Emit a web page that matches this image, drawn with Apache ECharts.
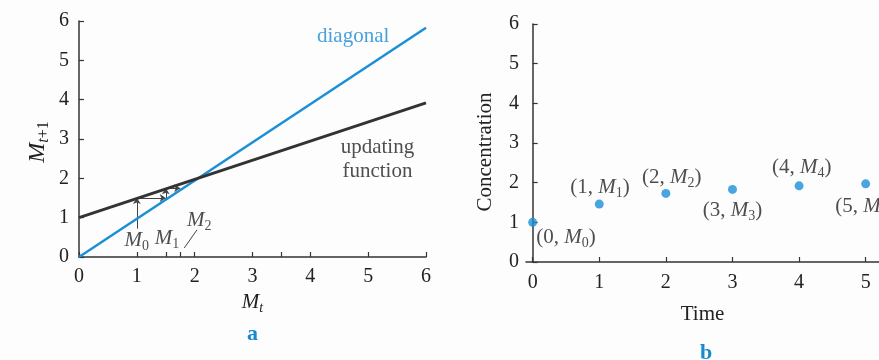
<!DOCTYPE html>
<html>
<head>
<meta charset="utf-8">
<script src="https://cdn.jsdelivr.net/npm/echarts@6/dist/echarts.min.js"></script>
<style>
  html, body { margin: 0; padding: 0; background: #fdfdfd; }
  #chart { width: 879px; height: 360px; }
</style>
</head>
<body>
<div id="chart"></div>
<script>
// panel a: cobweb diagram
var diagonalLine = [[0, 0], [6, 5.83]];
var updatingLine = [[0, 1], [6, 3.92]];
var cobwebSteps = [
    [[1, 0.72], [1, 1.5]],
    [[1, 1.5], [1.5, 1.5]],
    [[1.5, 1.5], [1.5, 1.75]],
    [[1.5, 1.75], [1.75, 1.75]]
];
var leaderLine = [[1.82, 0.23], [2.04, 0.69]];
var xTicksA = [0, 1, 1.5, 1.75, 2, 3, 3.5, 4, 5, 6];
var xLabelsA = [0, 1, 2, 3, 4, 5, 6];

// panel b: concentration over time
var timeSteps = [0, 1, 2, 3, 4, 5];
var concentration = [1.0, 1.46, 1.73, 1.83, 1.92, 1.97];
var xLabelsB = [0, 1, 2, 3, 4, 5];

// text annotations (data coords)
var notesA = [
    [4.74, 5.6, 'diagonal', '#1a8ad4'],
    [5.16, 2.49, 'updating\nfunction', '#222']
];
var mLabelsA = [
    [1.0, 0.43, '0'],
    [1.52, 0.48, '1'],
    [2.08, 0.94, '2']
];
var pointLabelsB = [
    [0.5, 0.63],
    [1.01, 1.89],
    [2.09, 2.14],
    [3.0, 1.31],
    [4.04, 2.39],
    [4.99, 1.39]
];

var serif = '"Liberation Serif", "DejaVu Serif", serif';
var ink = '#222';
var blue = '#1a8fd6';

var richM = {
    n: { fontFamily: serif, fontSize: 21, color: ink, lineHeight: 26 },
    m: { fontFamily: serif, fontSize: 21, fontStyle: 'italic', color: ink, lineHeight: 26 },
    s: { fontFamily: serif, fontSize: 14, color: ink, lineHeight: 13, verticalAlign: 'bottom' },
    si: { fontFamily: serif, fontSize: 14, fontStyle: 'italic', color: ink, lineHeight: 13, verticalAlign: 'bottom' }
};
// the vertical axis name is set a little larger
var richBig = {
    m: { fontFamily: serif, fontSize: 24, fontStyle: 'italic', color: ink, lineHeight: 28 },
    s: { fontFamily: serif, fontSize: 16, color: ink, lineHeight: 14, verticalAlign: 'bottom' },
    si: { fontFamily: serif, fontSize: 16, fontStyle: 'italic', color: ink, lineHeight: 14, verticalAlign: 'bottom' }
};

function axisCommon() {
    return {
        axisLine: { lineStyle: { color: '#333', width: 1.5 } },
        axisTick: { inside: true, length: 5, lineStyle: { color: '#333', width: 1.2 } },
        splitLine: { show: false },
        axisLabel: { fontFamily: serif, fontSize: 20, color: ink }
    };
}

var myChart = echarts.init(document.getElementById('chart'));

var xa = axisCommon();
xa.gridIndex = 0; xa.type = 'value'; xa.min = 0; xa.max = 6;
xa.axisTick.customValues = xTicksA;
xa.axisLabel.customValues = xLabelsA;
xa.axisLabel.margin = 10;
xa.name = '{m|M}{si|t}';
xa.nameLocation = 'middle';
xa.nameGap = 31;
xa.nameTextStyle = { rich: richM };

var ya = axisCommon();
ya.gridIndex = 0; ya.type = 'value'; ya.min = 0; ya.max = 6; ya.interval = 1;
ya.axisLabel.margin = 10;
ya.name = '{m|M}{si|t}{s|+1}';
ya.nameLocation = 'middle';
ya.nameRotate = 90;
ya.nameGap = 27;
ya.nameTextStyle = { rich: richBig, padding: [0, 6, 0, 0] };

var xb = axisCommon();
xb.gridIndex = 1; xb.type = 'value'; xb.min = -0.1; xb.max = 5.2;
xb.axisTick.customValues = xLabelsB;
xb.axisLabel.customValues = xLabelsB;
xb.axisLabel.margin = 11;
xb.name = 'Time';
xb.nameLocation = 'middle';
xb.nameGap = 42;
xb.nameTextStyle = { fontFamily: serif, fontSize: 21, color: ink };

var yb = axisCommon();
yb.gridIndex = 1; yb.type = 'value'; yb.min = 0; yb.max = 6; yb.interval = 1;
yb.axisLabel.margin = 7;
yb.name = 'Concentration';
yb.nameLocation = 'middle';
yb.nameRotate = 90;
yb.nameGap = 30;
yb.nameTextStyle = { fontFamily: serif, fontSize: 21, color: ink, padding: [0, 18, 0, 0] };

var option = {
    backgroundColor: '#fdfdfd',
    animation: false,
    grid: [
        { left: 79, width: 347, top: 21, height: 236 },
        { left: 526, right: 0, top: 24, height: 238 }
    ],
    xAxis: [xa, xb],
    yAxis: [ya, yb],
    graphic: [
        { type: 'text', left: 247, top: 323, style: { text: 'a', font: 'bold 22px ' + serif, fill: '#1a8ad0' } },
        { type: 'text', left: 700, top: 342, style: { text: 'b', font: 'bold 22px ' + serif, fill: '#1a8ad0' } }
    ],
    series: [
        {
            type: 'line', xAxisIndex: 0, yAxisIndex: 0,
            data: diagonalLine, symbol: 'none',
            lineStyle: { color: blue, width: 2.5 }
        },
        {
            type: 'line', xAxisIndex: 0, yAxisIndex: 0,
            data: updatingLine, symbol: 'none',
            lineStyle: { color: '#333', width: 3 }
        },
        {
            type: 'lines', coordinateSystem: 'cartesian2d', xAxisIndex: 0, yAxisIndex: 0,
            data: cobwebSteps.map(function (c) { return { coords: c }; }),
            symbol: ['none', 'arrow'], symbolSize: 6,
            lineStyle: { color: '#444', width: 1, opacity: 1, curveness: 0 }
        },
        {
            type: 'lines', coordinateSystem: 'cartesian2d', xAxisIndex: 0, yAxisIndex: 0,
            data: [{ coords: leaderLine }],
            symbol: 'none',
            lineStyle: { color: '#444', width: 1, opacity: 1 }
        },
        {
            type: 'scatter', xAxisIndex: 0, yAxisIndex: 0, symbolSize: 0, silent: true,
            data: notesA.map(function (d) {
                return { value: [d[0], d[1]], label: { color: d[3] }, name: d[2] };
            }),
            label: {
                show: true, position: 'inside', fontFamily: serif, fontSize: 21, lineHeight: 24,
                formatter: function (p) { return p.name; }
            }
        },
        {
            type: 'scatter', xAxisIndex: 0, yAxisIndex: 0, symbolSize: 0, silent: true,
            data: mLabelsA.map(function (d) { return { value: [d[0], d[1]], name: d[2] }; }),
            label: {
                show: true, position: 'inside', rich: richM,
                formatter: function (p) { return '{m|M}{s|' + p.name + '}'; }
            }
        },
        {
            type: 'scatter', xAxisIndex: 1, yAxisIndex: 1,
            data: timeSteps.map(function (t, i) { return [t, concentration[i]]; }),
            symbolSize: 9,
            itemStyle: { color: blue }
        },
        {
            type: 'scatter', xAxisIndex: 1, yAxisIndex: 1, symbolSize: 0, silent: true,
            data: pointLabelsB.map(function (d, i) { return { value: d, name: String(timeSteps[i]) }; }),
            label: {
                show: true, position: 'inside', rich: richM,
                formatter: function (p) { return '{n|(' + p.name + ', }{m|M}{s|' + p.name + '}{n|)}'; }
            }
        }
    ]
};

myChart.setOption(option);
</script>
</body>
</html>
